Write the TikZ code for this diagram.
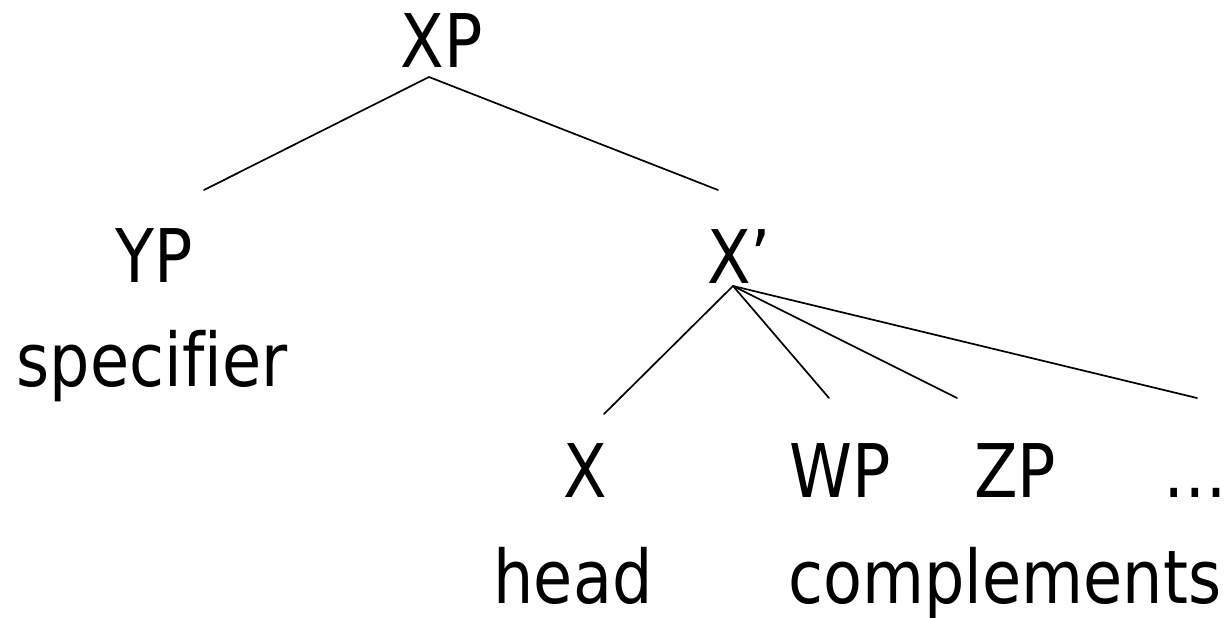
\documentclass[tikz,border=0pt]{standalone}
\usepackage{fontspec}
\setmainfont{DejaVu Sans}[FakeStretch=0.86,Ligatures=NoCommon]
\begin{document}
\begin{tikzpicture}[x=1pt,y=-1pt,
  lbl/.style={inner sep=0pt,anchor=base,font=\fontsize{74}{74}\selectfont},
  edge/.style={line width=1.7pt,line cap=round}]
\useasboundingbox (0,0) rectangle (1226,618);
% labels
\node[lbl] (XP) at (441.5,67) {XP};
\node[lbl] (YP) at (154,282) {YP};
\node[lbl] (Xbar) at (739,283) {X’};
\node[lbl] (X) at (585,497) {X};
\node[lbl] (WP) at (840,497) {WP};
\node[lbl] (ZP) at (1015,497) {ZP};
\node[lbl] (dots) at (1195,497) {…};
\node[lbl] (spec) at (152,386) {specifier};
\node[lbl] (head) at (573,603) {head};
\node[lbl] (comp) at (1005,603) {complements};
% connector end points
\coordinate (xpA) at (429,77);
\coordinate (ypT) at (204,190);
\coordinate (xbT) at (718,190);
\coordinate (xbA) at (733,286);
\coordinate (xT) at (604,414);
\coordinate (wpT) at (829,398);
\coordinate (zpT) at (957,398);
\coordinate (dT) at (1197,398);
% connectors
\draw[edge] (ypT) -- (xpA) -- (xbT);
\draw[edge] (xbA) -- (xT);
\draw[edge] (xbA) -- (wpT);
\draw[edge] (xbA) -- (zpT);
\draw[edge] (xbA) -- (dT);
\end{tikzpicture}
\end{document}
